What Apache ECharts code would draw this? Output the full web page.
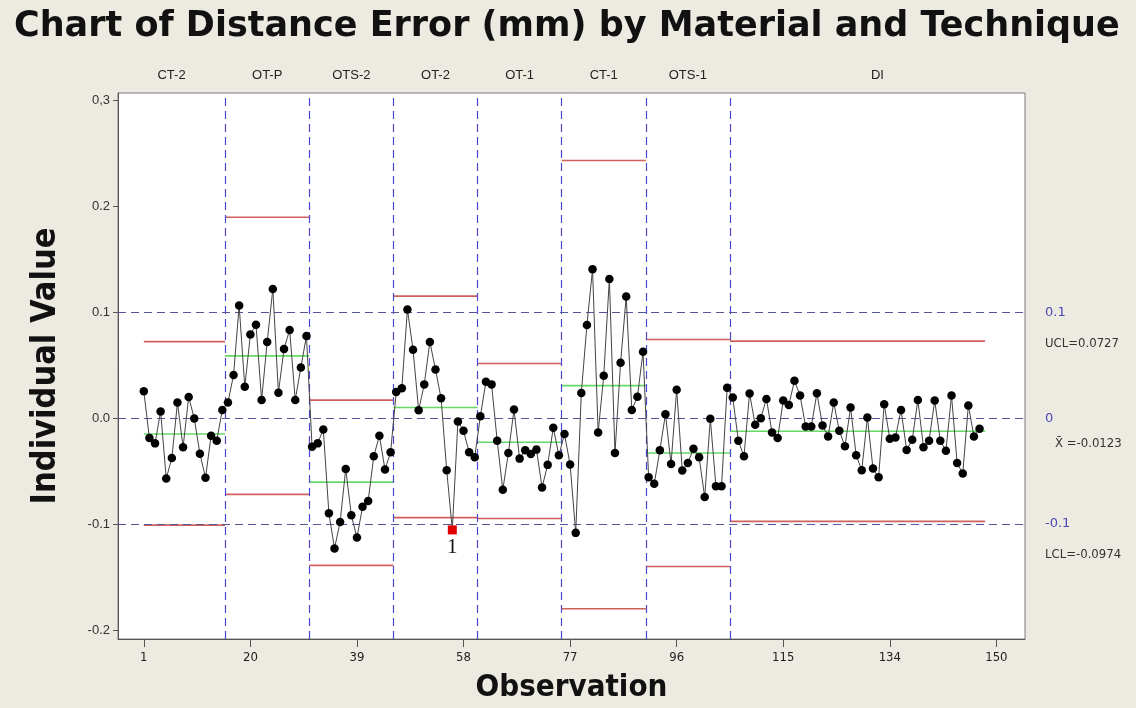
<!DOCTYPE html>
<html><head><meta charset="utf-8">
<script src="https://cdn.jsdelivr.net/npm/echarts@6/dist/echarts.min.js"></script>
<style>html,body{margin:0;padding:0;background:#EDEAE2;} #c{width:1136px;height:708px;}</style>
</head><body><div id="c"></div>
<script>
// ---- Data ----
const stageNames = ['CT-2','OT-P','OTS-2','OT-2','OT-1','CT-1','OTS-1','DI'];
const ct2  = [0.0254,-0.0188,-0.0238,0.0063,-0.0570,-0.0376,0.0147,-0.0275,0.0200,-0.0003,-0.0335,-0.0563,-0.0166,-0.0213,0.0078];
const otp  = [0.0147,0.0407,0.1064,0.0297,0.0789,0.0883,0.0172,0.0720,0.1220,0.0241,0.0654,0.0833,0.0172,0.0479,0.0776];
const ots2 = [-0.0269,-0.0238,-0.0106,-0.0898,-0.1230,-0.0980,-0.0479,-0.0917,-0.1127,-0.0836,-0.0782,-0.0360,-0.0166,-0.0485,-0.0322];
const ot2  = [0.0247,0.0282,0.1027,0.0645,0.0075,0.0319,0.0720,0.0460,0.0188,-0.0491,-0.1055,-0.0031,-0.0119,-0.0322,-0.0369];
const ot1  = [0.0019,0.0344,0.0319,-0.0213,-0.0676,-0.0329,0.0081,-0.0382,-0.0304,-0.0338,-0.0297,-0.0654,-0.0441,-0.0091,-0.0351];
const ct1  = [-0.0150,-0.0438,-0.1083,0.0238,0.0879,0.1405,-0.0135,0.0401,0.1315,-0.0329,0.0523,0.1149,0.0078,0.0203,0.0626];
const ots1 = [-0.0557,-0.0620,-0.0304,0.0038,-0.0432,0.0269,-0.0495,-0.0423,-0.0288,-0.0369,-0.0745,-0.0006,-0.0642,-0.0642,0.0288];
const di   = [0.0194,-0.0213,-0.0360,0.0232,-0.0063,0.0000,0.0182,-0.0135,-0.0188,0.0166,0.0125,0.0354,0.0213,-0.0078,-0.0078,
              0.0235,-0.0069,-0.0172,0.0147,-0.0119,-0.0266,0.0100,-0.0351,-0.0491,0.0006,-0.0476,-0.0557,0.0131,-0.0194,-0.0182,
              0.0078,-0.0300,-0.0203,0.0172,-0.0275,-0.0213,0.0166,-0.0213,-0.0307,0.0213,-0.0423,-0.0523,0.0119,-0.0172,-0.0100];
const stageValues = [ct2, otp, ots2, ot2, ot1, ct1, ots1, di];
const stageUCL  = [0.0723, 0.1897, 0.0170, 0.1152, 0.0516, 0.2432, 0.0742, 0.0727];
const stageMean = [-0.0150, 0.0588, -0.0604, 0.0100, -0.0228, 0.0307, -0.0329, -0.0123];
const stageLCL  = [-0.1010, -0.0720, -0.1390, -0.0939, -0.0948, -0.1800, -0.1400, -0.0974];
const refLines = [0.1, 0, -0.1];
const refLabels = ['0.1', '0', '-0.1'];
const xTickValues = [1, 20, 39, 58, 77, 96, 115, 134, 153];
const xTickLabels = ['1','20','39','58','77','96','115','134','150'];
const yTickValues = [-0.2, -0.1, 0, 0.1, 0.2, 0.3];
const yTickLabels = ['-0.2','-0.1','0.0','0.1','0.2','0,3'];

// ---- Build ----
const X_MIN = -3.6, X_MAX = 158.1, Y_MIN = -0.2085, Y_MAX = 0.307;
const firstObs = [], lastObs = [];
let n = 0;
stageValues.forEach(a => { firstObs.push(n + 1); n += a.length; lastObs.push(n); });
const boundaries = [];
for (let k = 0; k < stageValues.length - 1; k++) boundaries.push((lastObs[k] + firstObs[k + 1]) / 2);
const edges = [X_MIN].concat(boundaries, [X_MAX]);
const stageCenters = stageNames.map((_, k) => (edges[k] + edges[k + 1]) / 2);

const pointData = [];
stageValues.forEach((arr, k) => {
  arr.forEach((v, i) => {
    const x = firstObs[k] + i;
    if (v > stageUCL[k] || v < stageLCL[k]) {
      pointData.push({ value: [x, v], symbol: 'rect', symbolSize: 9,
        itemStyle: { color: '#e00000' },
        label: { show: true, formatter: '1', position: 'bottom', distance: 3,
                 fontFamily: 'Liberation Serif', fontSize: 21, color: '#111' } });
    } else {
      pointData.push([x, v]);
    }
  });
});

const series = [];
const RED = '#d0605c', GREEN = '#66d866';
stageValues.forEach((arr, k) => {
  const x0 = k === 0 ? firstObs[k] : firstObs[k] - 0.5;
  const x1 = k === stageValues.length - 1 ? lastObs[k] + 1 : lastObs[k] + 0.5;
  [[stageUCL[k], RED], [stageMean[k], GREEN], [stageLCL[k], RED]].forEach(([v, c]) => {
    series.push({ type: 'line', data: [[x0, v], [x1, v]], symbol: 'none', silent: true, z: 3,
      lineStyle: { color: c, width: 1.6 }, animation: false });
  });
});

const last = stageValues.length - 1;
const limFont = { color: '#333', fontSize: 13, fontFamily: 'DejaVu Sans Condensed, DejaVu Sans' };
const hidden = { color: 'rgba(0,0,0,0)', width: 0.01 };
series.push({
  type: 'line', data: [], silent: true, z: 2, animation: false,
  markLine: {
    symbol: ['none', 'none'], silent: true, animation: false,
    data: boundaries.map(b => ({ xAxis: b, label: { show: false },
      lineStyle: { color: '#4848d0', type: [8, 5], width: 1.2 } }))
      .concat(refLines.map((v, i) => ({ yAxis: v,
        label: { show: true, position: 'end', distance: 20, formatter: refLabels[i],
                 color: '#4a4ab4', fontSize: 13, fontFamily: 'DejaVu Sans' },
        lineStyle: { color: '#55559a', type: [8, 5], width: 1.2 } })))
      .concat([
        { yAxis: stageUCL[last], lineStyle: hidden,
          label: Object.assign({ show: true, position: 'end', distance: 20,
                   formatter: 'UCL=' + stageUCL[last].toFixed(4) }, limFont) },
        { yAxis: stageMean[last], lineStyle: hidden,
          label: Object.assign({ show: true, position: 'end', distance: 30, offset: [0, 15],
                   formatter: 'X\u0304 =' + stageMean[last].toFixed(4) }, limFont) },
        { yAxis: stageLCL[last], lineStyle: hidden,
          label: Object.assign({ show: true, position: 'end', distance: 20, offset: [0, 31],
                   formatter: 'LCL=' + stageLCL[last].toFixed(4) }, limFont) }
      ])
  }
});

series.push({
  type: 'line', data: pointData, z: 5, animation: false,
  symbol: 'circle', symbolSize: 8.5,
  itemStyle: { color: '#000' },
  lineStyle: { color: '#444', width: 1 }
});

const chart = echarts.init(document.getElementById('c'), null, { renderer: 'canvas' });
chart.setOption({
  backgroundColor: '#EDEAE2',
  animation: false,
  title: {
    text: 'Chart of Distance Error (mm) by Material and Technique',
    left: 9, top: 4,
    textStyle: { fontFamily: 'DejaVu Sans', fontWeight: 'bold', fontSize: 35, color: '#111' }
  },
  grid: { left: 118, right: 111, top: 93, bottom: 66, show: true,
          backgroundColor: '#fff', borderColor: '#7a7a7a', borderWidth: 1 },
  xAxis: [{
    type: 'value', min: X_MIN, max: X_MAX, position: 'bottom',
    name: 'Observation', nameLocation: 'middle', nameGap: 33,
    nameTextStyle: { fontFamily: 'Liberation Sans Narrow, DejaVu Sans Condensed, sans-serif', fontWeight: 'bold', fontSize: 31, color: '#111' },
    axisLine: { show: true, onZero: false, lineStyle: { color: '#555' } },
    axisTick: { show: true, length: 8, customValues: xTickValues, lineStyle: { color: '#555' } },
    axisLabel: { customValues: xTickValues, margin: 12, fontSize: 13, color: '#222',
                 fontFamily: 'Liberation Sans Narrow, DejaVu Sans Condensed, sans-serif',
                 formatter: v => xTickLabels[xTickValues.indexOf(v)] },
    splitLine: { show: false }
  }, {
    type: 'value', min: X_MIN, max: X_MAX, position: 'top',
    axisLine: { show: false, onZero: false }, axisTick: { show: false },
    axisLabel: { customValues: stageCenters, margin: 11, fontSize: 13, color: '#222',
                 fontFamily: 'Liberation Sans, Arial, sans-serif',
                 formatter: v => stageNames[stageCenters.indexOf(v)] },
    splitLine: { show: false }
  }],
  yAxis: {
    type: 'value', min: Y_MIN, max: Y_MAX,
    name: 'Individual Value', nameLocation: 'middle', nameGap: 55, nameRotate: 90,
    nameTextStyle: { fontFamily: 'Liberation Sans Narrow, DejaVu Sans Condensed, sans-serif', fontWeight: 'bold', fontSize: 34, color: '#111' },
    axisLine: { show: true, onZero: false, lineStyle: { color: '#555' } },
    axisTick: { show: true, length: 5, customValues: yTickValues, lineStyle: { color: '#555' } },
    axisLabel: { customValues: yTickValues, margin: 8, fontSize: 13, color: '#333',
                 fontFamily: 'Liberation Sans, Arial, sans-serif',
                 formatter: v => yTickLabels[yTickValues.findIndex(t => Math.abs(t - v) < 1e-9)] },
    splitLine: { show: false }
  },
  series: series
});
</script></body></html>
